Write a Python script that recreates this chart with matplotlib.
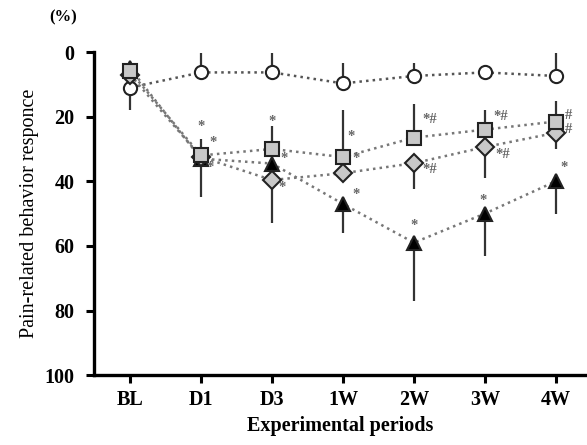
import matplotlib.pyplot as plt

plt.rcParams['font.family'] = ['Liberation Serif', 'DejaVu Serif']

periods = ['BL', 'D1', 'D3', '1W', '2W', '3W', '4W']

# mean values (%), y axis is inverted
circle = [11, 6.3, 6.3, 9.7, 7.4, 6.3, 7.4]
square = [6, 32, 30, 32.5, 26.5, 24, 21.5]
diamond = [7, 32.5, 39.6, 37.5, 34.4, 29.4, 25]
triangle = [5, 33, 34.5, 47, 59, 50, 40]

# one-sided error bars: (toward 0, toward 100)
circle_err = [[0, 6, 6, 6.3, 4, 0, 7.1], [7, 0, 0, 0, 0, 0, 0]]
square_err = [[0, 5, 7, 14.5, 10.5, 6, 6.5], [0, 0, 0, 0, 0, 0, 0]]
diamond_err = [[0, 0, 0, 0, 0, 0, 0], [0, 0, 13.4, 0, 8.1, 9.6, 5]]
triangle_err = [[0, 0, 0, 0, 0, 0, 0], [0, 12, 0, 9, 18, 13, 10]]

# significance marks: (x index, y value, text)
marks = [
    (1, 23, '*'), (1.17, 28, '*'), (1.13, 35.6, '*'),
    (2, 21.6, '*'), (2.17, 33, '*'), (2.14, 42, '*'),
    (3.11, 26, '*'), (3.18, 33, '*'), (3.18, 44, '*'),
    (4.23, 20.8, '*#'), (4.23, 36.5, '*#'), (4, 53.6, '*'),
    (5.22, 20, '*#'), (5.25, 31.6, '*#'), (4.98, 46, '*'),
    (6.18, 19.5, '#'), (6.18, 24, '#'), (6.12, 35.6, '*'),
]

fig = plt.figure(figsize=(5.87, 4.45), dpi=100)
ax = fig.add_axes([0.160, 0.157, 0.840, 0.726])

x = list(range(len(periods)))

def draw(vals, err, marker, face, line_color):
    ax.errorbar(x, vals, yerr=err, fmt='none', ecolor='#333333',
                elinewidth=1.6, capsize=0, zorder=2, clip_on=False)
    ax.plot(x, vals, linestyle=':', color=line_color, linewidth=1.8,
            zorder=3, clip_on=False)
    ax.plot(x, vals, linestyle='none', marker=marker, markersize=9.5,
            markerfacecolor=face, markeredgecolor='#222222',
            markeredgewidth=1.5, zorder=4, clip_on=False)

draw(circle, circle_err, 'o', 'white', '#555555')
draw(triangle, triangle_err, '^', 'black', '#777777')
draw(diamond, diamond_err, 'D', '#c8c8c8', '#777777')
draw(square, square_err, 's', '#c8c8c8', '#777777')

for mx, my, t in marks:
    ax.text(mx, my, t, ha='center', va='center', fontsize=10.5,
            color='#666666', fontweight='bold')

ax.set_ylim(100, 0)
ax.set_xlim(-0.51, 6.44)
ax.set_yticks([0, 20, 40, 60, 80, 100])
ax.set_xticks(x)
ax.set_xticklabels(periods)

for s in ['top', 'right']:
    ax.spines[s].set_visible(False)
for s in ['left', 'bottom']:
    ax.spines[s].set_linewidth(2.4)
ax.tick_params(width=2.2, length=6, labelsize=14.5)
ax.tick_params(axis='y', pad=8)
ax.tick_params(axis='x', pad=5)
for lab in ax.get_xticklabels() + ax.get_yticklabels():
    lab.set_fontweight('bold')

ax.set_xlabel('Experimental periods', fontsize=14.5, fontweight='bold', labelpad=4)
ax.set_ylabel('Pain-related behavior responce', fontsize=14.5, labelpad=4)
fig.text(0.107, 0.962, '(%)', fontsize=12, fontweight='bold', ha='center', va='center')

fig.savefig('out.png', dpi=100)
